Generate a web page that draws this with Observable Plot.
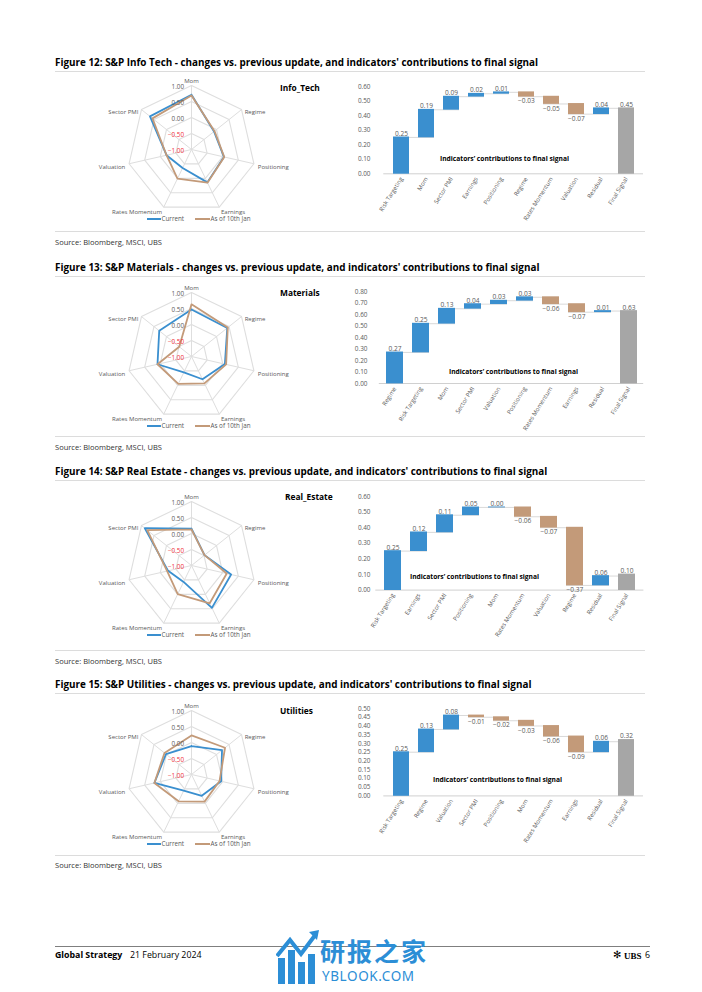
<!DOCTYPE html>
<html><head><meta charset="utf-8">
<script src="https://cdn.jsdelivr.net/npm/d3@7"></script>
<script src="https://cdn.jsdelivr.net/npm/@observablehq/plot@0.6"></script>
<style>
body{margin:0;background:#fff;}
#page{position:relative;width:702px;height:992px;overflow:hidden;font-family:"Open Sans",sans-serif;background:#fff;}
.abs{position:absolute;white-space:nowrap;line-height:1;transform-origin:left center;}
.title{font-weight:bold;font-size:10.5px;color:#000;}
.hr{position:absolute;height:0;border-top:1px solid #DCDCDC;}
.src{font-size:8px;color:#333;}
.sector{font-weight:bold;font-size:8.4px;color:#000;}
.note{font-weight:bold;font-size:6.8px;color:#000;}
.leg{font-size:6.3px;color:#595959;}
.seg{position:absolute;height:2px;}
.plotbox{position:absolute;}
</style></head>
<body><div id="page"></div>
<script>
// ---------- DATA ----------
const radarCats = ["Mom","Regime","Positioning","Earnings","Rates Momentum","Valuation","Sector PMI"];
const radarTicks = [1, 0.5, 0, -0.5, -1];

const infoTechCurrent = [0.71, -0.10, 0.04, 0.14, -0.36, -0.20, 0.66];
const infoTechPrev    = [0.69, -0.08, 0.05, 0.15, 0.01, -0.20, 0.56];
const materialsCurrent = [0.47, 0.43, 0.07, -0.21, -0.45, 0.09, 0.29];
const materialsPrev    = [0.63, 0.45, 0.11, -0.07, -0.05, 0.09, -0.51];
const realEstateCurrent = [0.15, -0.48, 0.27, 0.47, -0.43, -0.25, 0.87];
const realEstatePrev    = [0.13, -0.48, 0.13, 0.31, -0.01, -0.22, 0.77];
const utilitiesCurrent = [-0.11, 0.22, -0.05, -0.26, -0.44, 0.19, 0.02];
const utilitiesPrev    = [0.22, 0.34, -0.10, -0.06, -0.07, 0.19, 0.08];

const wf12Cats = ["Risk Targeting","Mom","Sector PMI","Earnings","Positioning","Regime","Rates Momentum","Valuation","Residual","Final Signal"];
const wf12Vals = [0.25, 0.19, 0.09, 0.02, 0.01, -0.03, -0.05, -0.07, 0.04, 0.45];
const wf12Ticks = [0, 0.1, 0.2, 0.3, 0.4, 0.5, 0.6];

const wf13Cats = ["Regime","Risk Targeting","Mom","Sector PMI","Valuation","Positioning","Rates Momentum","Earnings","Residual","Final Signal"];
const wf13Vals = [0.27, 0.25, 0.13, 0.04, 0.03, 0.03, -0.06, -0.07, 0.01, 0.63];
const wf13Ticks = [0, 0.1, 0.2, 0.3, 0.4, 0.5, 0.6, 0.7, 0.8];

const wf14Cats = ["Risk Targeting","Earnings","Sector PMI","Positioning","Mom","Rates Momentum","Valuation","Regime","Residual","Final Signal"];
const wf14Vals = [0.25, 0.12, 0.11, 0.05, 0.00, -0.06, -0.07, -0.37, 0.06, 0.10];
const wf14Ticks = [0, 0.1, 0.2, 0.3, 0.4, 0.5, 0.6];

const wf15Cats = ["Risk Targeting","Regime","Valuation","Sector PMI","Positioning","Mom","Rates Momentum","Earnings","Residual","Final Signal"];
const wf15Vals = [0.25, 0.13, 0.08, -0.01, -0.02, -0.03, -0.06, -0.09, 0.06, 0.32];
const wf15Ticks = [0, 0.05, 0.1, 0.15, 0.2, 0.25, 0.3, 0.35, 0.4, 0.45, 0.5];

const figTitles = [
  "Figure 12: S&P Info Tech - changes vs. previous update, and indicators' contributions to final signal",
  "Figure 13: S&P Materials - changes vs. previous update, and indicators' contributions to final signal",
  "Figure 14: S&P Real Estate - changes vs. previous update, and indicators' contributions to final signal",
  "Figure 15: S&P Utilities - changes vs. previous update, and indicators' contributions to final signal"
];
const sectorNames = ["Info_Tech","Materials","Real_Estate","Utilities"];
const seriesNames = ["Current","As of 10th Jan"];
const noteText = "Indicators\u2019 contributions to final signal";
const sourceText = "Source: Bloomberg, MSCI, UBS";

// ---------- STYLE / LAYOUT ----------
const BLUE = "#3A8FCF", TAN = "#C39A79", GREYBAR = "#A6A6A6", RED = "#F0303A", TXT = "#595959", GRID = "#DEDEDE";

const layouts = [
  {titleY:62, cx:190.5, cy:149, secX:280, secY:88, zero:173.3, topPix:86, max:0.6, bandStart:383.3, bandEnd:643, tickRight:370, noteX:440, noteY:159.3, botLine:231, srcY:242},
  {titleY:267, cx:191, cy:355.5, secX:280, secY:292.7, zero:382.7, topPix:290.7, max:0.8, bandStart:378.8, bandEnd:643.2, tickRight:367, noteX:449, noteY:371.7, botLine:436, srcY:447},
  {titleY:471, cx:190.5, cy:565, secX:285, secY:497.3, zero:589.3, topPix:495.7, max:0.6, bandStart:375.3, bandEnd:643.4, tickRight:370, noteX:410, noteY:576.7, botLine:650, srcY:661},
  {titleY:684, cx:191, cy:774, secX:280, secY:710.7, zero:795.7, topPix:708.3, max:0.5, bandStart:383.3, bandEnd:643, tickRight:370, noteX:432.7, noteY:780.3, botLine:855, srcY:865}
];

const radarData = [[infoTechCurrent, infoTechPrev],[materialsCurrent, materialsPrev],[realEstateCurrent, realEstatePrev],[utilitiesCurrent, utilitiesPrev]];
const wfData = [[wf12Cats, wf12Vals, wf12Ticks],[wf13Cats, wf13Vals, wf13Ticks],[wf14Cats, wf14Vals, wf14Ticks],[wf15Cats, wf15Vals, wf15Ticks]];

const page = document.getElementById("page");
function addDiv(cls, text, x, y, extra) {
  const d = document.createElement("div");
  d.className = "abs " + cls;
  d.textContent = text;
  d.style.left = x + "px";
  d.style.top = y + "px";
  d.style.transform = "translateY(-50%)";
  if (extra) Object.assign(d.style, extra);
  page.appendChild(d);
  return d;
}
function addLine(x1, x2, y, color, w) {
  const d = document.createElement("div");
  d.className = "hr";
  d.style.left = x1 + "px"; d.style.width = (x2 - x1) + "px"; d.style.top = y + "px";
  if (color) d.style.borderTopColor = color;
  if (w) d.style.borderTopWidth = w + "px";
  page.appendChild(d);
  return d;
}
function place(svg, left, top) {
  const box = document.createElement("div");
  box.className = "plotbox";
  box.style.left = left + "px"; box.style.top = top + "px";
  box.appendChild(svg);
  page.appendChild(box);
}

// ---------- RADAR ----------
const anchorOf = ["middle","start","start","start","end","end","end"];
const dyOf = [0, 4.5, 2.5, 1, 1, 2.5, 4.5];
function radar(cur, prev, L) {
  const W = 250, H = 165, ox = 125, oy = 85, R = 64;
  const ang = i => 2 * Math.PI * i / radarCats.length;
  const rad = v => (v + 1) / 2;
  const pt = (v, i) => ({x: rad(v) * Math.sin(ang(i)), y: rad(v) * Math.cos(ang(i))});
  const n = radarCats.length;
  const ringVals = radarTicks.filter(v => v > -1);
  const rings = ringVals.flatMap(rv => d3.range(n + 1).map(i => ({ring: rv, ...pt(rv, i % n)})));
  const spokes = radarCats.map((c, i) => ({x1: 0, y1: 0, x2: pt(1, i).x, y2: pt(1, i).y}));
  const series = vals => d3.range(n + 1).map(i => pt(vals[i % n], i % n));
  const tickLab = radarTicks.map(v => ({v, x: 0, y: rad(v)}));
  const catMarks = radarCats.map((c, i) => Plot.text([{c, ...pt(1.125, i)}], {
    x: "x", y: "y", text: "c", textAnchor: anchorOf[i], dy: dyOf[i], fill: TXT, fontSize: 6
  }));
  const svg = Plot.plot({
    width: W, height: H, margin: 0,
    style: {fontFamily: "Open Sans", background: "transparent", overflow: "visible"},
    x: {domain: [-ox / R, (W - ox) / R], axis: null},
    y: {domain: [(oy - H) / R, oy / R], axis: null},
    marks: [
      Plot.line(rings, {x: "x", y: "y", z: "ring", stroke: GRID, strokeWidth: 1.1}),
      Plot.link(spokes, {x1: "x1", y1: "y1", x2: "x2", y2: "y2", stroke: GRID, strokeWidth: 1}),
      Plot.line(series(cur), {x: "x", y: "y", stroke: BLUE, strokeWidth: 1.8}),
      Plot.line(series(prev), {x: "x", y: "y", stroke: TAN, strokeWidth: 1.8}),
      Plot.text(tickLab, {x: "x", y: "y", text: d => d3.format(".2f")(d.v), textAnchor: "end", dx: -7.5, dy: 1,
        fill: d => d.v < 0 ? RED : TXT, fontSize: 6.3}),
      ...catMarks
    ]
  });
  place(svg, L.cx - ox, L.cy - oy);
}

// ---------- WATERFALL ----------
function waterfall(cats, vals, ticks, L) {
  const left = 340, W = 310, mt = 12, mb = 62;
  const rows = [];
  let cum = 0;
  vals.forEach((v, i) => {
    if (i === vals.length - 1) rows.push({cat: cats[i], y1: 0, y2: v, v, kind: "final"});
    else { rows.push({cat: cats[i], y1: cum, y2: cum + v, v, kind: v >= 0 ? "pos" : "neg"}); cum += v; }
  });
  const conns = rows.slice(0, -1).map((r, i) => ({a: r.cat, b: rows[i + 1].cat, level: r.y2}));
  const fillOf = {pos: BLUE, neg: TAN, final: GREYBAR};
  const H = mt + (L.zero - L.topPix) + mb;
  const svg = Plot.plot({
    width: W, height: H,
    marginLeft: L.bandStart - left, marginRight: left + W - L.bandEnd, marginTop: mt, marginBottom: mb,
    style: {fontFamily: "Open Sans", background: "transparent", overflow: "visible"},
    x: {type: "band", domain: cats, paddingInner: 0.35, paddingOuter: 0.175},
    y: {domain: [0, L.max]},
    marks: [
      Plot.ruleY([0], {stroke: "#D0D0D0", strokeWidth: 1}),
      Plot.ruleY(conns, {x1: "a", x2: "b", y: "level", stroke: "#C8C8C8", strokeWidth: 0.7}),
      Plot.barY(rows, {x: "cat", y1: "y1", y2: "y2", fill: d => fillOf[d.kind], insetTop: -0.4, insetBottom: -0.4}),
      Plot.text(rows.filter(d => d.kind !== "neg"), {x: "cat", y: "y2", text: d => d3.format(".2f")(d.v), lineAnchor: "bottom", dy: -1.5, fill: TXT, fontSize: 6.6}),
      Plot.text(rows.filter(d => d.kind === "neg"), {x: "cat", y: "y2", text: d => d3.format(".2f")(d.v), lineAnchor: "top", dy: 2, fill: TXT, fontSize: 6.6}),
      Plot.axisY({ticks: ticks, tickFormat: d3.format(".2f"), tickSize: 0, tickPadding: L.bandStart - L.tickRight, label: null, fill: TXT, fontSize: 6.4}),
      Plot.axisX({tickSize: 0, tickPadding: 4, tickRotate: -58, label: null, fill: TXT, fontSize: 6})
    ]
  });
  place(svg, left, L.topPix - mt);
}

// ---------- BUILD PAGE ----------
const titleEls = [], noteEls = [];
layouts.forEach((L, k) => {
  titleEls.push(addDiv("title", figTitles[k], 55, L.titleY));
  addLine(55, 645, L.titleY + 9);
  radar(radarData[k][0], radarData[k][1], L);
  addDiv("sector", sectorNames[k], L.secX, L.secY);
  // legend
  const ly = L.cy + 70;
  const s1 = document.createElement("div"); s1.className = "seg";
  Object.assign(s1.style, {left: "146.5px", width: "14px", top: (ly - 1) + "px", background: BLUE}); page.appendChild(s1);
  addDiv("leg", seriesNames[0], 161.5, ly);
  const s2 = document.createElement("div"); s2.className = "seg";
  Object.assign(s2.style, {left: "195px", width: "14.5px", top: (ly - 1) + "px", background: TAN}); page.appendChild(s2);
  addDiv("leg", seriesNames[1], 210.5, ly);
  waterfall(wfData[k][0], wfData[k][1], wfData[k][2], L);
  noteEls.push(addDiv("note", noteText, L.noteX, L.noteY));
  addLine(55, 645, L.botLine);
  addDiv("src", sourceText, 55, L.srcY);
});

// footer
addLine(55, 650, 946, "#7F7F7F", 1.5);
addDiv("", "Global Strategy", 55, 955, {fontWeight: "bold", fontSize: "8.8px", color: "#000"});
addDiv("", "21 February 2024", 130, 955, {fontSize: "8.8px", color: "#000"});
addDiv("", "\u273B", 613, 955, {fontSize: "10px", color: "#000", fontFamily: "DejaVu Sans"});
addDiv("", "UBS", 624, 955.5, {fontSize: "9px", color: "#000", fontFamily: "Liberation Serif", fontWeight: "bold"});
addDiv("", "6", 645, 955, {fontSize: "8.8px", color: "#000"});
// watermark
addDiv("", "\u7814\u62a5\u4e4b\u5bb6", 320, 950, {fontSize: "25px", color: "#2C8ED6", fontFamily: "Noto Sans CJK SC", fontWeight: "bold", letterSpacing: "2px"});
addDiv("", "YBLOOK.COM", 322, 977, {fontSize: "13.5px", color: "#2C8ED6", fontFamily: "Noto Sans", letterSpacing: "0.6px"});
const logo = document.createElementNS("http://www.w3.org/2000/svg", "svg");
logo.setAttribute("width", "44"); logo.setAttribute("height", "58");
logo.innerHTML = '<g fill="#2C8ED6"><rect x="2" y="30" width="7" height="26"/><rect x="12" y="22" width="7" height="34"/><rect x="22" y="34" width="7" height="22"/><rect x="32" y="26" width="7" height="30"/></g>' +
  '<polyline points="1,28 14,12 25,26 40,6" fill="none" stroke="#2C8ED6" stroke-width="4"/><polygon points="33,4 43,2 41,12" fill="#2C8ED6"/>';
const lb = document.createElement("div"); lb.className = "plotbox"; lb.style.left = "276px"; lb.style.top = "928px"; lb.appendChild(logo); page.appendChild(lb);

// fit widths (horizontal compression to match reference font metrics)
const k0 = 483 / titleEls[0].getBoundingClientRect().width;
titleEls.forEach(el => { el.style.transform = `translateY(-50%) scaleX(${k0})`; });
const kn = 129 / noteEls[0].getBoundingClientRect().width;
noteEls.forEach(el => { el.style.transform = `translateY(-50%) scaleX(${kn})`; });
document.querySelectorAll(".src").forEach(el => {
  const w = el.getBoundingClientRect().width; el.style.transform = `translateY(-50%) scaleX(${107 / w})`;
});
</script></body></html>
